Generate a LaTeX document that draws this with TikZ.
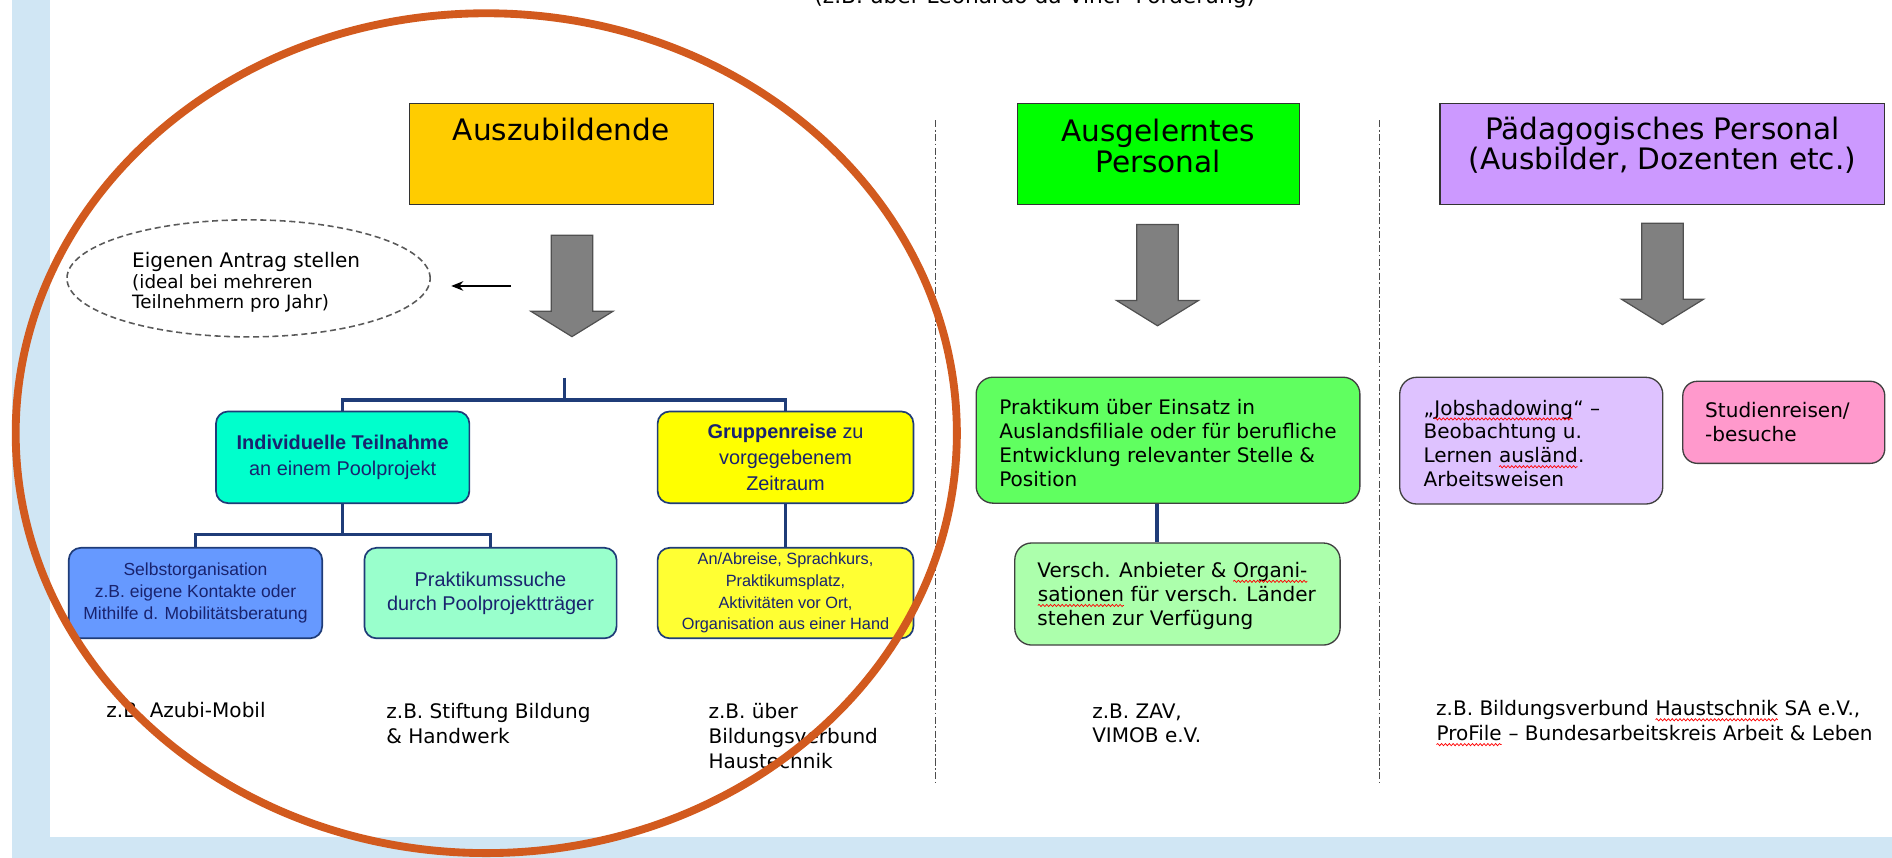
\documentclass[tikz,border=0pt]{standalone}
\usepackage{fontspec}
\setmainfont{DejaVu Sans}
\newfontfamily\arialf{Liberation Sans}
\usetikzlibrary{arrows.meta,shapes.geometric,calc,decorations.pathmorphing}
\definecolor{bgblue}{RGB}{208,230,244}
\definecolor{orng}{RGB}{210,90,30}
\definecolor{auszY}{RGB}{255,204,0}
\definecolor{ausgG}{RGB}{0,255,0}
\definecolor{paedL}{RGB}{204,153,255}
\definecolor{tealc}{RGB}{0,255,204}
\definecolor{sob}{RGB}{102,153,255}
\definecolor{psg}{RGB}{153,255,204}
\definecolor{gry}{RGB}{255,255,0}
\definecolor{aay}{RGB}{255,255,51}
\definecolor{prakG}{RGB}{96,255,96}
\definecolor{verschG}{RGB}{172,255,172}
\definecolor{jobL}{RGB}{222,194,255}
\definecolor{pinkS}{RGB}{255,153,204}
\definecolor{treeblue}{RGB}{31,60,120}
\definecolor{navytext}{RGB}{25,35,110}
\definecolor{arrgray}{RGB}{128,128,128}
\definecolor{arrdark}{RGB}{80,80,80}
\newcommand\redwave[1]{\tikz[baseline=(wv.base)]{\node[inner sep=0pt,outer sep=0pt] (wv) {#1};
  \draw[red, line width=0.6pt, decorate, decoration={snake, amplitude=0.9pt, segment length=3.2pt}]
   ([yshift=-3.2pt]wv.base west) -- ([yshift=-3.2pt]wv.base east);}}
\begin{document}
\begin{tikzpicture}[x=1pt,y=-1pt,
  hdrbox/.style={draw=black!80, line width=0.9, inner sep=0},
  hdrtxt/.style={font=\fontsize{24.5}{25}\selectfont, align=center, inner sep=0},
  treebox/.style={draw=treeblue, line width=1.4, rounded corners=10, inner sep=0, align=center, text=navytext},
  graybox/.style={draw=black!75, line width=1.1, rounded corners=14, inner sep=0},
  body/.style={font=\fontsize{16.6}{19.8}\selectfont, inner sep=0, align=left, anchor=west},
  conn/.style={draw=treeblue, line width=2.8},
  sepline/.style={draw=black!70, line width=0.9, dash pattern=on 6 off 2 on 1.5 off 2},
  orangering/.style={draw=orng, line width=6.5},
  blockarr/.pic={\draw[fill=arrgray, draw=arrdark, line width=1]
     (-17.2,0) -- (17.2,0) -- (17.2,63) -- (34,63) -- (0,84) -- (-34,63) -- (-17.2,63) -- cycle;}
]
\useasboundingbox (0,0) rectangle (1568,711);
\fill[bgblue] (10,0) rectangle (41.4,711);
\fill[bgblue] (10,693.4) rectangle (1568,711);

% top (cut-off) text
\node[font=\fontsize{18}{20}\selectfont, inner sep=0, anchor=base] (toptxt) at (857.5,2.5) {(z.B. über Leonardo da Vinci -Förderung)};

% separators
\coordinate (s1a) at (775,99.5); \coordinate (s1b) at (775,649);
\coordinate (s2a) at (1143,99.5); \coordinate (s2b) at (1143,649);
\draw[sepline] (s1a) -- (s1b);
\draw[sepline] (s2a) -- (s2b);

% header boxes
\node[hdrbox, fill=auszY, minimum width=252, minimum height=83.7] (ausz) at (465,127.5) {};
\node[hdrtxt] (auszT) at (465,107.7) {Auszubildende};
\node[hdrbox, fill=ausgG, minimum width=233.6, minimum height=83.7] (ausg) at (959.8,127.5) {};
\node[hdrtxt] (ausgT) at (959.8,121) {Ausgelerntes\\Personal};
\node[hdrbox, fill=paedL, minimum width=368.6, minimum height=83.7] (paed) at (1377.7,127.5) {};
\node[hdrtxt] (paedT) at (1377.7,120.5) {Pädagogisches Personal\\(Ausbilder, Dozenten etc.)};

% block arrows
\pic at (474,195) {blockarr};
\pic at (959.3,186) {blockarr};
\pic at (1377.8,185) {blockarr};

% dashed ellipse with text
\node[ellipse, draw=black!65, dash pattern=on 5 off 3, line width=1.3, minimum width=301, minimum height=97, inner sep=0] (ell) at (206,230.7) {};
\node[font=\fontsize{16.6}{18}\selectfont, inner sep=0, anchor=base west] (ellT1) at (109.4,221.5) {Eigenen Antrag stellen};
\node[font=\fontsize{15.2}{17}\selectfont, inner sep=0, anchor=base west] (ellT2) at (109.4,239) {(ideal bei mehreren};
\node[font=\fontsize{15.2}{17}\selectfont, inner sep=0, anchor=base west] (ellT3) at (109.4,255.5) {Teilnehmern pro Jahr)};
\coordinate (sa1) at (423.5,237); \coordinate (sa2) at (374,237);
\draw[line width=1.2, -{Stealth[length=10, width=8]}] (sa1) -- (sa2);

% left tree
\node[treebox, fill=tealc, minimum width=210, minimum height=76,
  font=\arialf\fontsize{16.5}{21}\selectfont] (it) at (284,379) {\textbf{Individuelle Teilnahme}\\an einem Poolprojekt};
\node[treebox, fill=gry, minimum width=212, minimum height=76,
  font=\arialf\fontsize{16.5}{21.4}\selectfont] (gr) at (651,379) {\textbf{Gruppenreise} zu\\vorgegebenem\\Zeitraum};
\node[treebox, fill=sob, minimum width=210, minimum height=75,
  font=\arialf\fontsize{14.5}{18}\selectfont] (so) at (162,491.5) {Selbstorganisation\\z.B. eigene Kontakte oder\\Mithilfe d. Mobilitätsberatung};
\node[treebox, fill=psg, minimum width=209, minimum height=75,
  font=\arialf\fontsize{16.5}{20}\selectfont] (ps) at (406.5,491.5) {Praktikumssuche\\durch Poolprojektträger};
\node[treebox, fill=aay, minimum width=212, minimum height=75,
  font=\arialf\fontsize{13.5}{18}\selectfont] (aa) at (651,491.5) {An/Abreise, Sprachkurs,\\Praktikumsplatz,\\Aktivitäten vor Ort,\\Organisation aus einer Hand};

\coordinate (tt) at (468,313);
\coordinate (tj) at (468,331.5);
\coordinate (cj) at (284,443);
\draw[conn] (tt) -- (tj);
\draw[conn] (it.north) |- (tj) -| (gr.north);
\draw[conn] (it.south) -- (cj);
\draw[conn] (so.north) |- (cj) -| (ps.north);
\draw[conn] (gr.south) -- (aa.north);

% middle column
\node[graybox, fill=prakG, minimum width=318, minimum height=104.4] (prak) at (968,364.8) {};
\node[body] (prakT) at (828,367) {Praktikum über Einsatz in\\Auslandsfiliale oder für berufliche\\Entwicklung relevanter Stelle \&\\Position};
\node[graybox, fill=verschG, minimum width=269.6, minimum height=84.6] (versch) at (975.8,492.3) {};
\node[body, font=\fontsize{16.6}{20}\selectfont] (verschT) at (859.6,494) {Versch. Anbieter \& \redwave{Organi-}\\\redwave{sationen} für versch. Länder\\stehen zur Verfügung};
\coordinate (vx) at (959,0);
\draw[conn] (prak.south -| vx) -- (versch.north -| vx);

% right column
\node[graybox, fill=jobL, minimum width=218, minimum height=105] (job) at (1269,365.2) {};
\node[body] (jobT) at (1179.6,367.5) {„\redwave{Jobshadowing}“ –\\Beobachtung u.\\Lernen \redwave{ausländ}.\\Arbeitsweisen};
\node[graybox, rounded corners=12, fill=pinkS, minimum width=167.4, minimum height=68] (stud) at (1478.3,350) {};
\node[body] (studT) at (1413,349.5) {Studienreisen/\\-besuche};

% bottom examples
\node[body, font=\fontsize{16.6}{20.6}\selectfont] (ex1) at (88,588.4) {z.B. Azubi-Mobil};
\node[body, font=\fontsize{16.6}{20.6}\selectfont] (ex2) at (320,599.5) {z.B. Stiftung Bildung\\\& Handwerk};
\node[body, font=\fontsize{16.6}{20.8}\selectfont] (ex3) at (587,610) {z.B. über\\Bildungsverbund\\Haustechnik};
\node[body, font=\fontsize{16.6}{20.6}\selectfont] (ex4) at (905,599.5) {z.B. ZAV,\\VIMOB e.V.};
\node[body, font=\fontsize{16.6}{20.6}\selectfont] (ex5) at (1190,599.5) {z.B. Bildungsverbund \redwave{Haustschnik} SA e.V.,\\\redwave{ProFile} – Bundesarbeitskreis Arbeit \& Leben};

% orange ring
\draw[orangering] (403,359) ellipse [x radius=390, y radius=348];
\end{tikzpicture}
\end{document}
